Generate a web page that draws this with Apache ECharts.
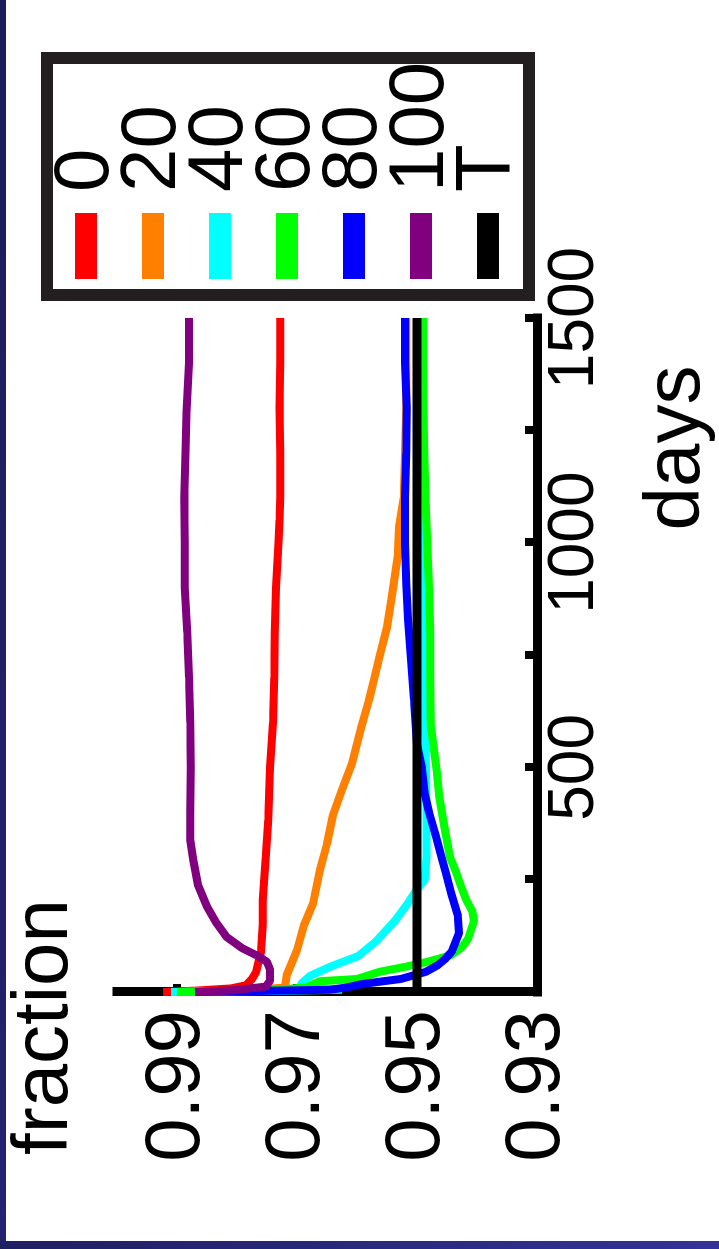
<!DOCTYPE html>
<html>
<head>
<meta charset="utf-8">
<script src="https://cdn.jsdelivr.net/npm/echarts@6/dist/echarts.min.js"></script>
<style>
  html, body { margin: 0; padding: 0; background: #fff; }
  body { width: 719px; height: 1249px; position: relative; overflow: hidden; }
  /* chart is drawn lying on its side, like the picture */
  #chart { position: absolute; left: 0; top: 0; width: 1249px; height: 719px;
    transform-origin: 0 0; transform: translateY(1249px) rotate(-90deg); }
  #edgeLeft { position: absolute; left: 0; top: 0; width: 6px; height: 1249px; background: linear-gradient(#1d1d5a, #232370); }
  #edgeBottom { position: absolute; left: 0; bottom: 0; width: 719px; height: 8px; background: linear-gradient(90deg, #1f1f62, #333399); }
</style>
</head>
<body>
<div id="chart"></div>
<div id="edgeLeft"></div>
<div id="edgeBottom"></div>
<script>
// 图例名称
const seriesNames = ['0', '20', '40', '60', '80', '100', 'T']
const lineColors = ['#ff0000', '#ff8000', '#00ffff', '#00ff00', '#0000ff', '#800080', '#000000']

// 0
const days0 = [0, 3, 8, 15, 29, 45, 90, 150, 205, 300, 383, 500, 600, 700, 800, 900, 1000, 1050, 1100, 1200, 1300, 1400, 1500]
const frac0 = [0.9923, 0.987, 0.981, 0.9785, 0.9775, 0.9768, 0.976, 0.9757, 0.9757, 0.9752, 0.9748, 0.9745, 0.974, 0.9738, 0.9737, 0.9735, 0.9731, 0.9729, 0.9728, 0.9728, 0.9729, 0.9728, 0.9728]
// 20
const days20 = [0, 3, 10, 38, 93, 150, 198, 271, 330, 394, 450, 510, 588, 650, 694, 743, 812, 872, 917, 970, 1035, 1100, 1200, 1300, 1400, 1500]
const frac20 = [0.990, 0.979, 0.972, 0.9717, 0.970, 0.9688, 0.9673, 0.9662, 0.965, 0.964, 0.9625, 0.9608, 0.9593, 0.958, 0.9572, 0.9563, 0.955, 0.9543, 0.9538, 0.9532, 0.953, 0.9522, 0.952, 0.9518, 0.9518, 0.9518]
// 40
const days40 = [0, 2, 5, 12, 20, 36, 56, 80, 113, 158, 194, 225, 250, 300, 400, 500, 600, 700, 800, 1000, 1200, 1500]
const frac40 = [0.991, 0.976, 0.9625, 0.9695, 0.9692, 0.9678, 0.9645, 0.9598, 0.9568, 0.9537, 0.9517, 0.9502, 0.9487, 0.9484, 0.9484, 0.9485, 0.9487, 0.9488, 0.9489, 0.949, 0.949, 0.949]
// 60
const days60 = [0, 3, 10, 24, 29, 45, 56, 67, 82, 100, 118, 158, 180, 205, 240, 267, 300, 372, 435, 492, 594, 700, 800, 900, 1000, 1100, 1200, 1300, 1400, 1500]
const frac60 = [0.990, 0.976, 0.9685, 0.9662, 0.960, 0.9562, 0.952, 0.9483, 0.9443, 0.9425, 0.9415, 0.9405, 0.9408, 0.9418, 0.9428, 0.9435, 0.9445, 0.9455, 0.9463, 0.9467, 0.9477, 0.9478, 0.9478, 0.948, 0.9483, 0.9486, 0.9488, 0.9489, 0.949, 0.949]
// 80
const days80 = [0, 2, 5, 10, 18, 29, 45, 60, 75, 90, 131, 170, 220, 265, 295, 345, 400, 440, 500, 550, 650, 740, 830, 910, 1000, 1100, 1200, 1300, 1400, 1500]
const frac80 = [0.987, 0.978, 0.9645, 0.9618, 0.959, 0.9527, 0.9485, 0.9465, 0.9452, 0.9442, 0.943, 0.9432, 0.9443, 0.9452, 0.9458, 0.9468, 0.948, 0.9487, 0.9492, 0.95, 0.9505, 0.951, 0.9515, 0.9518, 0.952, 0.952, 0.9518, 0.9517, 0.952, 0.952]
// 100
const days100 = [0, 4, 12, 25, 50, 67, 80, 98, 122, 155, 190, 238, 294, 338, 400, 500, 600, 700, 800, 900, 1000, 1100, 1200, 1290, 1400, 1500]
const frac100 = [0.987, 0.9805, 0.9752, 0.9745, 0.9745, 0.975, 0.9765, 0.9792, 0.9817, 0.9835, 0.985, 0.9865, 0.9873, 0.9878, 0.9878, 0.9877, 0.9878, 0.988, 0.9883, 0.9887, 0.9887, 0.9888, 0.9886, 0.9884, 0.988, 0.988]
// T
const daysT = [0, 1500]
const fracT = [0.95, 0.95]

// 坐标轴刻度
const dayTicks = [0, 250, 500, 750, 1000, 1250, 1500]
const dayLabels = [500, 1000, 1500]
const fracTicks = [0.93, 0.95, 0.97, 0.99]

const dayLists = [days0, days20, days40, days60, days80, days100, daysT]
const fracLists = [frac0, frac20, frac40, frac60, frac80, frac100, fracT]

const font = 'Liberation Sans'
const fontSize = 78

const chart = echarts.init(document.getElementById('chart'))
const option = {
  animation: false,
  backgroundColor: '#fff',
  textStyle: { fontFamily: font, color: '#000' },
  grid: { left: 257, top: 117, width: 674, height: 420, containLabel: false, outerBoundsMode: 'none' },
  legend: {
    orient: 'vertical',
    left: 970,
    top: 47,
    padding: 0,
    itemGap: -11,
    itemWidth: 66,
    itemHeight: 22,
    icon: 'rect',
    data: seriesNames,
    textStyle: { fontFamily: font, fontSize: fontSize, color: '#000', padding: [0, 0, 0, 16] },
    z: 10
  },
  graphic: [
    // 图例外框
    { type: 'rect', z: 5, shape: { x: 954, y: 47, width: 237, height: 482 }, style: { fill: '#fff', stroke: '#231f20', lineWidth: 12 } },
    { type: 'text', z: 5, style: { text: 'fraction', x: 94, y: 45, font: fontSize + 'px ' + font, fill: '#000', textVerticalAlign: 'middle' } },
    { type: 'text', z: 5, style: { text: 'days', x: 801, y: 677, font: fontSize + 'px ' + font, fill: '#000', textAlign: 'center', textVerticalAlign: 'middle' } }
  ],
  xAxis: {
    type: 'value',
    min: 0,
    max: 1500,
    axisLine: { show: true, onZero: false, lineStyle: { color: '#000', width: 9, cap: 'square' } },
    axisTick: { show: true, inside: true, length: 12, customValues: dayTicks, lineStyle: { color: '#000', width: 8 } },
    axisLabel: { customValues: dayLabels, margin: 6, fontFamily: font, fontSize: 64, color: '#000', formatter: v => String(v) },
    splitLine: { show: false }
  },
  yAxis: {
    type: 'value',
    min: 0.93,
    max: 1.0,
    axisLine: { show: true, onZero: false, lineStyle: { color: '#000', width: 9, cap: 'square' } },
    axisTick: { show: true, inside: true, length: 8, customValues: fracTicks, lineStyle: { color: '#000', width: 8 } },
    axisLabel: { customValues: fracTicks, margin: 18, fontFamily: font, fontSize: fontSize, color: '#000', padding: [0, 0, 13, 0], formatter: v => v.toFixed(2) },
    splitLine: { show: false }
  },
  series: seriesNames.map((name, i) => ({
    name: name,
    type: 'line',
    showSymbol: false,
    clip: false,
    color: lineColors[i],
    lineStyle: { width: i === 6 ? 9 : 8, color: lineColors[i] },
    data: dayLists[i].map((d, j) => [d, fracLists[i][j]])
  }))
}
chart.setOption(option)
</script>
</body>
</html>
